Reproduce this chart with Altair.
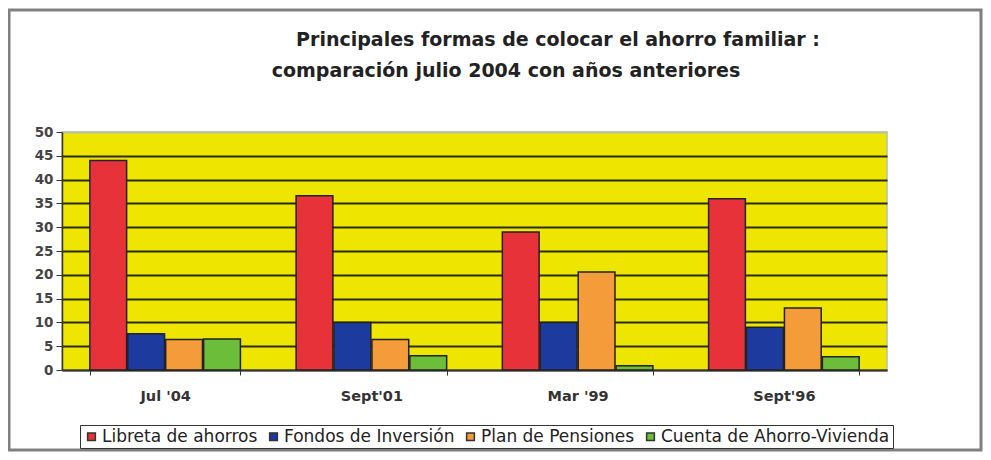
import altair as alt
import pandas as pd

periods = ["Jul '04", "Sept'01", "Mar '99", "Sept'96"]
series = ["Libreta de ahorros", "Fondos de Inversión", "Plan de Pensiones", "Cuenta de Ahorro-Vivienda"]
libreta = [44, 36.6, 29, 36]
fondos = [7.6, 10, 10, 9]
plan = [6.4, 6.4, 20.6, 13]
cuenta = [6.5, 3, 0.9, 2.8]
colors = ["#e8323a", "#1d3a9e", "#f59c3a", "#6cbd3a"]
y_ticks = [0, 5, 10, 15, 20, 25, 30, 35, 40, 45, 50]
title_line1 = "Principales formas de colocar el ahorro familiar :"
title_line2 = "comparación julio 2004 con años anteriores"

rows = []
for s, vals in zip(series, [libreta, fondos, plan, cuenta]):
    for p, v in zip(periods, vals):
        rows.append({"periodo": p, "serie": s, "valor": v})
df = pd.DataFrame(rows)

FONT = "DejaVu Sans"

bars = alt.Chart(df).mark_bar(stroke="#222222", strokeWidth=1.5).encode(
    x=alt.X("periodo:N", sort=periods, title=None,
            scale=alt.Scale(paddingInner=0.27, paddingOuter=0.135),
            axis=alt.Axis(labelAngle=0, tickBand="extent", tickSize=5, labelPadding=14,
                          labelFont=FONT, labelFontSize=14.5, labelFontWeight="bold",
                          labelColor="#333333", domainColor="#333333", domainWidth=1.5,
                          tickColor="#333333", grid=False)),
    xOffset=alt.XOffset("serie:N", sort=series, scale=alt.Scale(paddingInner=0.03)),
    y=alt.Y("valor:Q", title=None,
            scale=alt.Scale(domain=[0, 50], nice=False),
            axis=alt.Axis(values=y_ticks, tickSize=6, labelPadding=3,
                          labelFont=FONT, labelFontSize=13.5, labelFontWeight="bold",
                          labelColor="#444444", domainColor="#333333", domainWidth=1.5,
                          tickColor="#333333", grid=True, gridWidth=2,
                          gridColor=alt.condition("datum.value == 50",
                                                  alt.value("#b8c4a0"),
                                                  alt.value("#2a2a18")))),
    color=alt.Color("serie:N", sort=series,
                    scale=alt.Scale(domain=series, range=colors),
                    legend=alt.Legend(title=None, orient="none", legendX=18, legendY=293,
                                      direction="horizontal", columns=4,
                                      symbolType="square", symbolSize=60,
                                      symbolStrokeColor="#333333", symbolStrokeWidth=1.5,
                                      labelFont=FONT, labelFontSize=17, labelColor="#222222",
                                      labelLimit=500, labelOffset=2, columnPadding=7,
                                      strokeColor="#333333", padding=3,
                                      fillColor="#ffffff")),
)

one = pd.DataFrame({"k": [0]})

t1 = alt.Chart(one).mark_text(font=FONT, fontSize=19, fontWeight="bold", color="#222222",
                              align="center", baseline="middle").encode(
    x=alt.value(496), y=alt.value(-92), text=alt.value(title_line1))
t2 = alt.Chart(one).mark_text(font=FONT, fontSize=19, fontWeight="bold", color="#222222",
                              align="center", baseline="middle").encode(
    x=alt.value(444), y=alt.value(-61), text=alt.value(title_line2))

frame = alt.Chart(one).mark_rect(fillOpacity=0, stroke="#808080", strokeWidth=3).encode(
    x=alt.value(-53), x2=alt.value(919), y=alt.value(-122), y2=alt.value(318))

chart = alt.layer(frame, bars, t1, t2).properties(
    width=825, height=238,
    autosize=alt.AutoSizeParams(type="none"),
    padding={"left": 54, "top": 124, "right": 96, "bottom": 82},
    background="#ffffff",
).configure_view(
    fill="#eee600", stroke="#b8c4a0", strokeWidth=1.5
)

chart.save("out.html", embed_options={"renderer": "svg", "actions": False})
